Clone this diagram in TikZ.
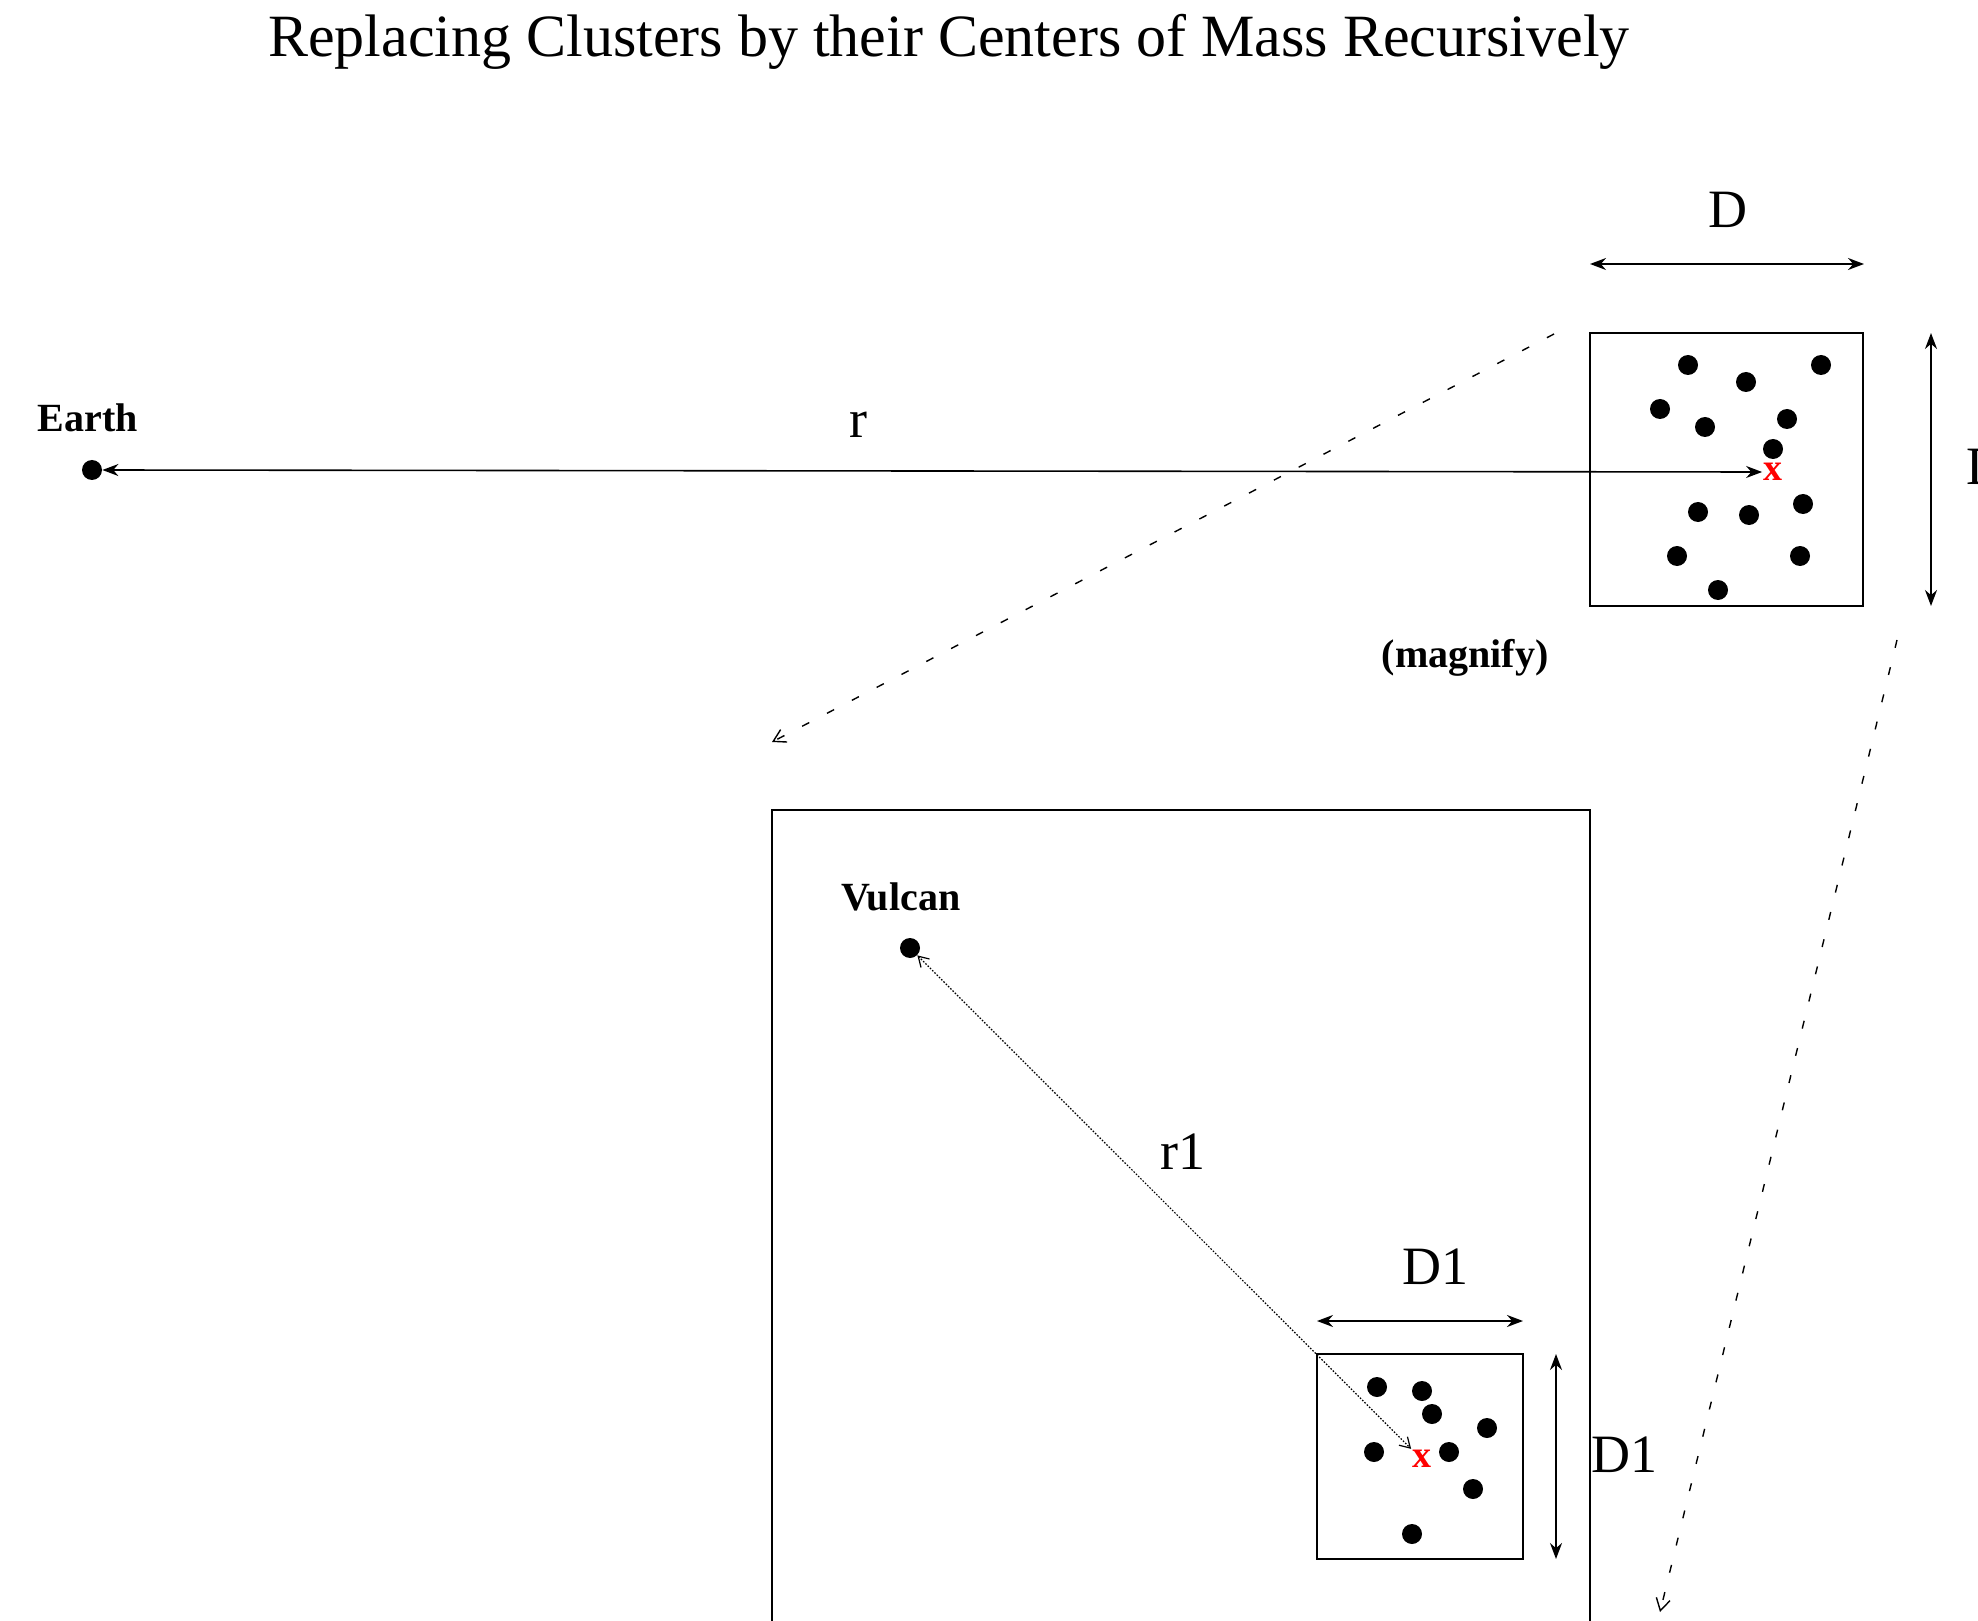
\documentclass[tikz,border=0pt]{standalone}
\usepackage{fontspec}
\setmainfont{Liberation Serif}
\usetikzlibrary{arrows.meta}
\begin{document}
\begin{tikzpicture}[x=0.5pt,y=-0.5pt,
  frame/.style={draw,line width=1.3pt,inner sep=0pt,outer sep=0pt},
  body/.style={circle,fill=black,inner sep=0pt,minimum size=10pt},
  dimline/.style={line width=0.9pt,{Stealth[length=8pt,width=6pt]}-{Stealth[length=8pt,width=6pt]}},
  rangeline/.style={line width=0.8pt,{Stealth[length=8pt,width=6pt]}-{Stealth[length=8pt,width=6pt]}},
  zoomline/.style={line width=0.7pt,dash pattern=on 4pt off 10pt,-{Straight Barb[length=6pt,width=7pt]}},
  nearline/.style={line width=0.6pt,dash pattern=on 0.8pt off 0.8pt,
    {Straight Barb[length=5pt,width=6pt]}-{Straight Barb[length=5pt,width=6pt]}},
  biglabel/.style={font=\fontsize{27pt}{30pt}\selectfont,inner sep=0pt},
  namelabel/.style={font=\fontsize{20pt}{24pt}\selectfont\bfseries,inner sep=0pt},
  com/.style={text=red,font=\fontsize{19pt}{22pt}\selectfont\bfseries,inner sep=0.5pt}]
\useasboundingbox (0,0) rectangle (1978,1621);

% title
\node[font=\fontsize{30pt}{35pt}\selectfont,inner sep=0pt] (title) at (949,42)
  {Replacing Clusters by their Centers of Mass Recursively};

% ---- far view: Earth and the distant cluster ----
\node[namelabel] (earthlbl) at (88,418) {Earth};
\node[body] (earth) at (92,470) {};

\node[frame,minimum width=136.5pt,minimum height=136.5pt] (cluster) at (1726.5,469.5) {};
\foreach \p [count=\i] in {(1688,365),(1746,382),(1821,365),(1660,409),(1705,427),
    (1787,419),(1773,449),(1698,512),(1749,515),(1803,504),(1677,556),(1800,556),(1718,590)}
  \node[body] (c\i) at \p {};
\node[com] (cm) at (1773,472) {x};

\draw[rangeline] (earth.east) -- (cm.west);
\node[biglabel] (rlbl) at (858,425) {r};

% cluster size markers
\coordinate (dl) at (1590,264);
\coordinate (dr) at (1864,264);
\draw[dimline] (dl) -- (dr);
\node[biglabel] (dlbl) at (1728,210) {D};
\coordinate (dt) at (1931,333);
\coordinate (db) at (1931,606);
\draw[dimline] (dt) -- (db);
\node[biglabel,anchor=west] (dlbl2) at (1966,467) {D};

% magnification guides
\coordinate (g1a) at (1554,334);
\coordinate (g1b) at (772,742);
\draw[zoomline] (g1a) -- (g1b);
\coordinate (g2a) at (1897,640);
\coordinate (g2b) at (1660,1612);
\draw[zoomline] (g2a) -- (g2b);
\node[namelabel] (mag) at (1465,658) {(magnify)};

% ---- magnified view ----
\draw[line width=1.3pt] (772,1700) -- (772,810) -- (1590,810) -- (1590,1700);
\node[namelabel] (vlbl) at (901,897) {Vulcan};
\node[body] (vulcan) at (910,948) {};

\node[frame,minimum width=103pt,minimum height=102.5pt] (sub) at (1420,1456.5) {};
\foreach \p [count=\i] in {(1377,1387),(1422,1391),(1432,1414),(1487,1428),
    (1374,1452),(1449,1452),(1473,1489),(1412,1534)}
  \node[body] (s\i) at \p {};
\node[com] (scm) at (1422,1459) {x};

\draw[nearline] (vulcan) -- (scm.north west);
\node[biglabel] (r1lbl) at (1183,1152) {r1};

\coordinate (el) at (1317,1321);
\coordinate (er) at (1523,1321);
\draw[dimline] (el) -- (er);
\node[biglabel] (d1lbl) at (1435,1267) {D1};
\coordinate (et) at (1556,1354);
\coordinate (eb) at (1556,1559);
\draw[dimline] (et) -- (eb);
\node[biglabel,anchor=west] (d1lbl2) at (1591,1455) {D1};
\end{tikzpicture}
\end{document}
